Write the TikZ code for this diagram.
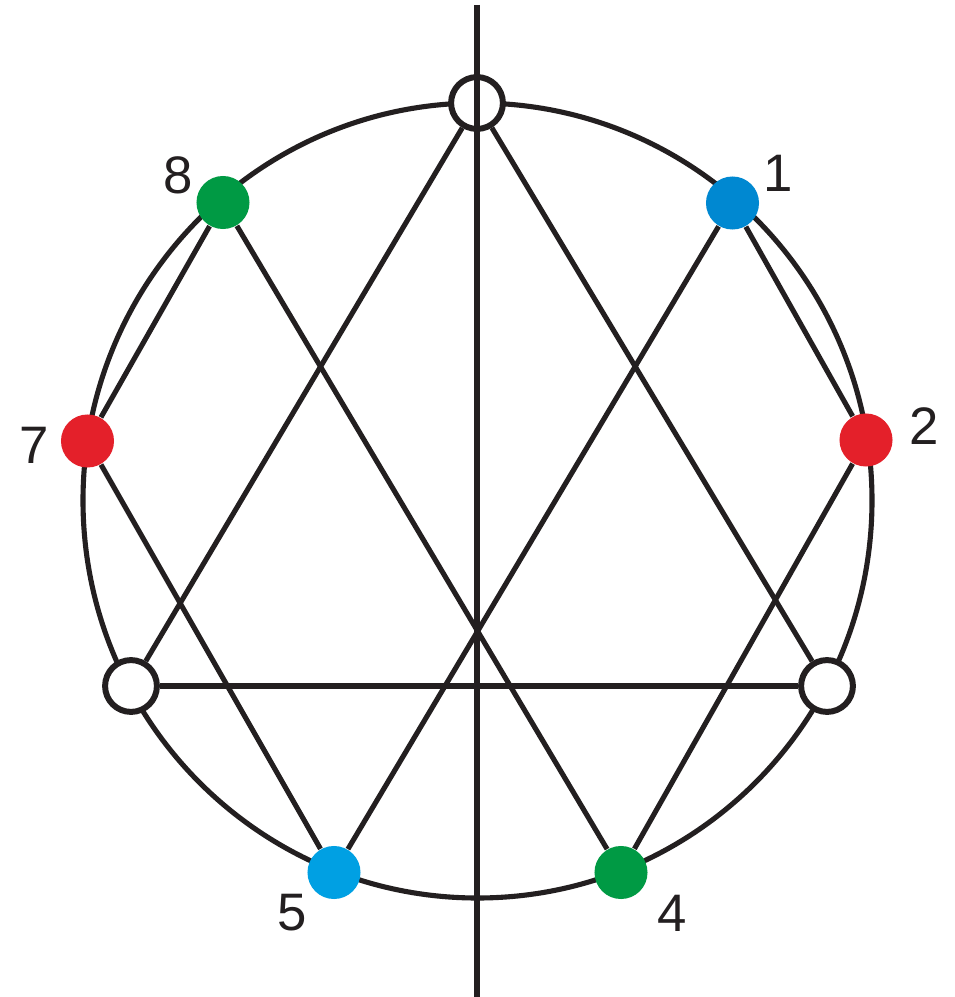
\documentclass[tikz,border=0pt]{standalone}
\usepackage{fontspec}
\setmainfont{Liberation Sans}
\definecolor{ink}{HTML}{231F20}
\definecolor{dgreen}{HTML}{009A44}
\definecolor{dblue}{HTML}{0088D1}
\definecolor{lblue}{HTML}{00A0E3}
\definecolor{dred}{HTML}{E4202A}
\begin{document}
\begin{tikzpicture}[x=0.01cm,y=-0.01cm,
  edge/.style={draw=ink,line width=1.45pt},
  opennode/.style={circle,draw=ink,fill=white,line width=1.7pt,minimum size=0.518cm,inner sep=0pt},
  dot/.style={circle,fill=#1,minimum size=0.53cm,inner sep=0pt},
  lbl/.style={text=ink,font=\fontsize{15}{18}\selectfont,inner sep=0pt}]
\useasboundingbox (0,0) rectangle (955,997);
\fill[white] (0,0) rectangle (955,997);
% outer circle
\draw[edge] (477.5,500.5) ellipse [x radius=394.5, y radius=397.5];
% nodes
\node[opennode] (T) at (477,103) {};
\node[opennode] (L) at (131,686) {};
\node[opennode] (R) at (827,686) {};
\node[dot=dgreen] (n8) at (223,202.5) {};
\node[dot=dblue] (n1) at (732.5,203) {};
\node[dot=dred] (n7) at (87.5,441) {};
\node[dot=dred] (n2) at (866,440) {};
\node[dot=lblue] (n5) at (334,872.5) {};
\node[dot=dgreen] (n4) at (621,872.5) {};
% labels
\node[lbl] (l8) at (178,175) {8};
\node[lbl] (l1) at (778,173) {1};
\node[lbl] (l7) at (34,445) {7};
\node[lbl] (l2) at (924,426) {2};
\node[lbl] (l5) at (292,913) {5};
\node[lbl] (l4) at (672,913) {4};
% triangle
\draw[edge] (T) -- (L);
\draw[edge] (T) -- (R);
\draw[edge] (L) -- (R);
% chords
\draw[edge] (n8) -- (n7);
\draw[edge] (n8) -- (n4);
\draw[edge] (n1) -- (n2);
\draw[edge] (n1) -- (n5);
\draw[edge] (n7) -- (n5);
\draw[edge] (n2) -- (n4);
% vertical axis
\coordinate (vtop) at (477,5);
\coordinate (vbot) at (477,997);
\draw[edge] (vtop) -- (vbot);
\end{tikzpicture}
\end{document}
